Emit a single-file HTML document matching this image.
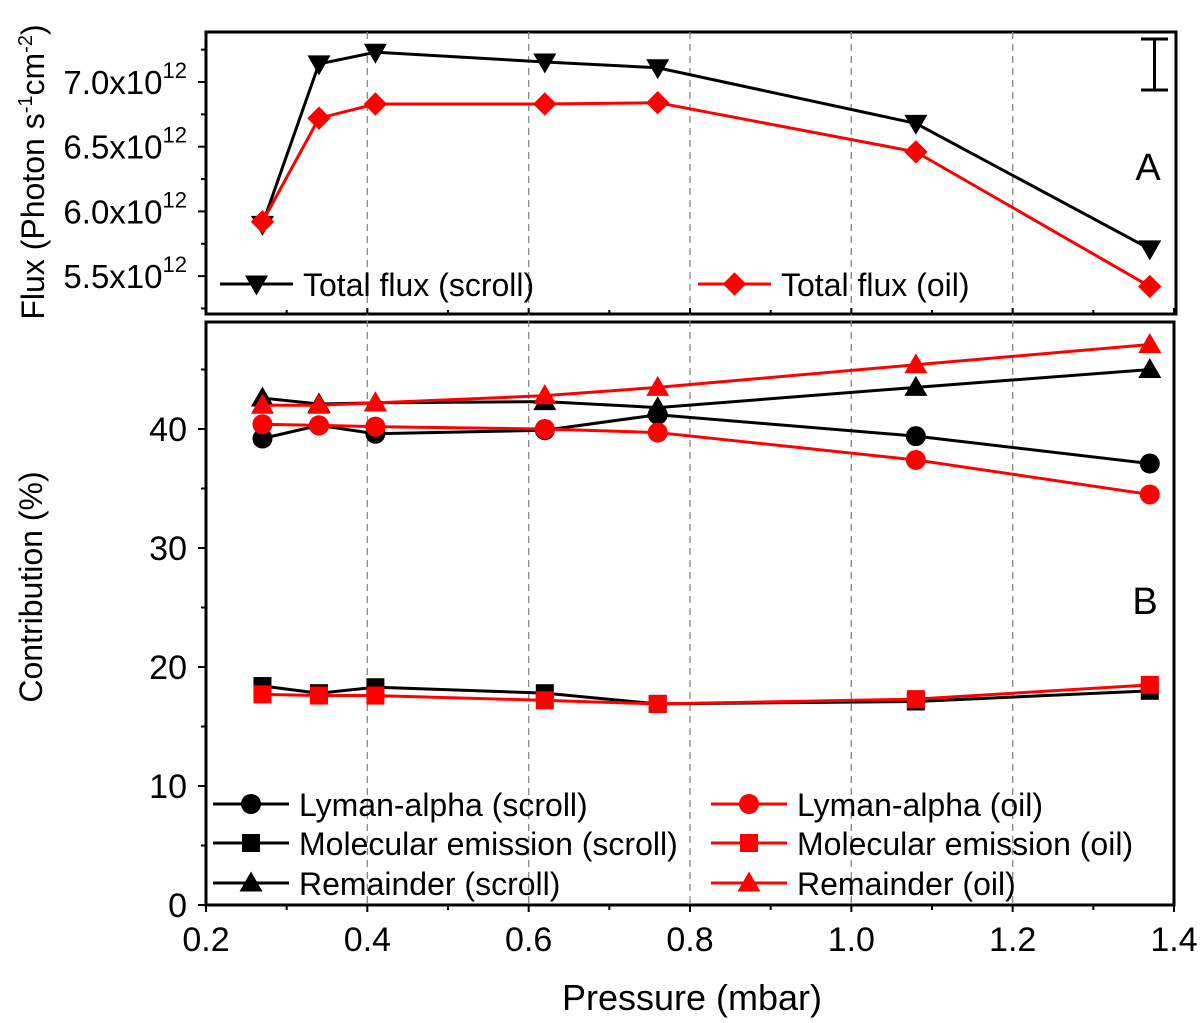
<!DOCTYPE html>
<html><head><meta charset="utf-8"><style>
body{margin:0;background:#fff;}
svg{display:block;font-family:"Liberation Sans",Arial,sans-serif;}
</style></head><body>
<svg id="c" width="1200" height="1023"></svg>
<script>
const pressures=[0.27,0.34,0.41,0.62,0.76,1.08,1.37];
const fluxScroll=[5.90,7.14,7.23,7.155,7.11,6.68,5.71];
const fluxOil=[5.92,6.72,6.83,6.83,6.84,6.46,5.42];
const lymanScroll=[39.2,40.3,39.6,39.9,41.2,39.4,37.1];
const lymanOil=[40.4,40.3,40.2,40.0,39.7,37.4,34.5];
const molScroll=[18.4,17.8,18.3,17.8,16.9,17.1,18.0];
const molOil=[17.7,17.6,17.6,17.2,16.9,17.3,18.5];
const remScroll=[42.6,42.1,42.2,42.3,41.8,43.5,45.0];
const remOil=[42.0,42.0,42.2,42.8,43.5,45.4,47.1];
const xTicks=[0.2,0.4,0.6,0.8,1.0,1.2,1.4];
const xTickLabels=["0.2","0.4","0.6","0.8","1.0","1.2","1.4"];
const fluxTicks=[5.5,6.0,6.5,7.0];
const fluxTickLabels=["5.5","6.0","6.5","7.0"];
const contTicks=[0,10,20,30,40];
const contTickLabels=["0","10","20","30","40"];

const svg=document.getElementById('c');
const NS='http://www.w3.org/2000/svg';
function mk(t,a,p){const e=document.createElementNS(NS,t);for(const k in a)e.setAttribute(k,a[k]);(p||svg).appendChild(e);return e;}
const L=206,R=1174;
const X=v=>L+(v-0.2)/1.2*(R-L);
const TT=32,TB=314;
const YF=v=>82-(v-7.0)*129.4;
const BT=322,BB=905;
const YC=v=>905-v*11.9;

let e;
e=mk('rect',{x:L,y:TT,width:R-L+2,height:TB-TT,fill:'none',stroke:'#000','stroke-width':3});

e=mk('rect',{x:L,y:BT,width:R-L,height:BB-BT,fill:'none',stroke:'#000','stroke-width':3});


[0.4,0.6,0.8,1.0,1.2].forEach(v=>{
  e=mk('line',{x1:X(v),x2:X(v),y1:TT,y2:BB,stroke:'#888','stroke-width':1.3,'stroke-dasharray':'7,5'});
  
});

xTicks.forEach((v,i)=>{
  mk('line',{x1:X(v),x2:X(v),y1:BB,y2:BB+7,stroke:'#000','stroke-width':2});
  mk('line',{x1:X(v),x2:X(v),y1:TB,y2:TB-6,stroke:'#000','stroke-width':2});
  if(i<xTicks.length-1){const m=v+0.1;mk('line',{x1:X(m),x2:X(m),y1:BB,y2:BB+5,stroke:'#000','stroke-width':2});mk('line',{x1:X(m),x2:X(m),y1:TB,y2:TB-4,stroke:'#000','stroke-width':2});}
  e=mk('text',{x:X(v),y:BB+46,'font-size':34,'text-anchor':'middle'});e.textContent=xTickLabels[i];
  
});
e=mk('text',{x:692,y:1010,'font-size':36,'text-anchor':'middle'});e.textContent='Pressure (mbar)';


for(let v=5.25;v<=7.26;v+=0.25){const maj=Math.abs(v*2-Math.round(v*2))<0.01;mk('line',{x1:L,x2:L-(maj?8:5),y1:YF(v),y2:YF(v),stroke:'#000','stroke-width':2});}
fluxTicks.forEach((v,i)=>{
  e=mk('text',{x:187,y:YF(v)+12,'font-size':33,'text-anchor':'end'});
  
  e.innerHTML=fluxTickLabels[i]+'x10<tspan dy="-16" font-size="22">12</tspan>';
});
e=mk('text',{transform:'translate(44,172) rotate(-90)','font-size':32,'text-anchor':'middle'});
e.innerHTML='Flux (Photon s<tspan dy="-12" font-size="20">-1</tspan><tspan dy="12">cm</tspan><tspan dy="-12" font-size="20">-2</tspan><tspan dy="12">)</tspan>';


for(let v=0;v<=45;v+=5){const maj=v%10===0;mk('line',{x1:L,x2:L-(maj?8:5),y1:YC(v),y2:YC(v),stroke:'#000','stroke-width':2});}
contTicks.forEach((v,i)=>{
  e=mk('text',{x:187,y:YC(v)+12,'font-size':34,'text-anchor':'end'});e.textContent=contTickLabels[i];
  
});
e=mk('text',{transform:'translate(42,587) rotate(-90)','font-size':32,'text-anchor':'middle'});e.textContent='Contribution (%)';


function marker(type,x,y,color,s,parent){
  if(type==='circle')return mk('circle',{cx:x,cy:y,r:s,fill:color},parent);
  if(type==='square')return mk('rect',{x:x-s,y:y-s,width:2*s,height:2*s,fill:color},parent);
  if(type==='tri')return mk('polygon',{points:`${x},${y-s*1.15} ${x-s*1.15},${y+s*0.85} ${x+s*1.15},${y+s*0.85}`,fill:color},parent);
  if(type==='dtri')return mk('polygon',{points:`${x},${y+s*1.15} ${x-s*1.15},${y-s*0.85} ${x+s*1.15},${y-s*0.85}`,fill:color},parent);
  if(type==='diamond')return mk('polygon',{points:`${x},${y-s*1.3} ${x+s*1.3},${y} ${x},${y+s*1.3} ${x-s*1.3},${y}`,fill:color},parent);
}
function series(vals,yf,color,type,name,s){
  const g=mk('g',{});
  
  mk('polyline',{points:vals.map((v,i)=>X(pressures[i])+','+yf(v)).join(' '),fill:'none',stroke:color,'stroke-width':3},g);
  vals.forEach((v,i)=>{const m=marker(type,X(pressures[i]),yf(v),color,s,g);
    });
}
series(fluxScroll,YF,'#000','dtri','total-flux-scroll-series',10);
series(fluxOil,YF,'#f00','diamond','total-flux-oil-series',9);
series(lymanScroll,YC,'#000','circle','lyman-alpha-scroll-series',10);
series(molScroll,YC,'#000','square','molecular-scroll-series',9);
series(remScroll,YC,'#000','tri','remainder-scroll-series',10);
series(lymanOil,YC,'#f00','circle','lyman-alpha-oil-series',10);
series(molOil,YC,'#f00','square','molecular-oil-series',9);
series(remOil,YC,'#f00','tri','remainder-oil-series',10);

e=mk('path',{d:'M1141 39 H1168 M1154.5 39 V90 M1141 90 H1168',stroke:'#000','stroke-width':3,fill:'none'});

e=mk('text',{x:1148,y:180,'font-size':38,'text-anchor':'middle'});e.textContent='A';

e=mk('text',{x:1145,y:614,'font-size':38,'text-anchor':'middle'});e.textContent='B';


function legend(x,y,color,type,label,s,fs,lw){
  const g=mk('g',{});
  
  mk('line',{x1:x,x2:x+lw,y1:y,y2:y,stroke:color,'stroke-width':3},g);
  marker(type,x+lw/2,y,color,s,g);
  const t=mk('text',{x:x+lw+10,y:y+fs*0.37,'font-size':fs},g);t.textContent=label;
}
legend(220,284,'#000','dtri','Total flux (scroll)',10,32,73);
legend(698,284,'#f00','diamond','Total flux (oil)',9,32,73);
legend(213,804,'#000','circle','Lyman-alpha (scroll)',10,32,76);
legend(213,843,'#000','square','Molecular emission (scroll)',9,32,76);
legend(213,883,'#000','tri','Remainder (scroll)',10,32,76);
legend(711,804,'#f00','circle','Lyman-alpha (oil)',10,32,76);
legend(711,843,'#f00','square','Molecular emission (oil)',9,32,76);
legend(711,883,'#f00','tri','Remainder (oil)',10,32,76);
</script>
</body></html>
